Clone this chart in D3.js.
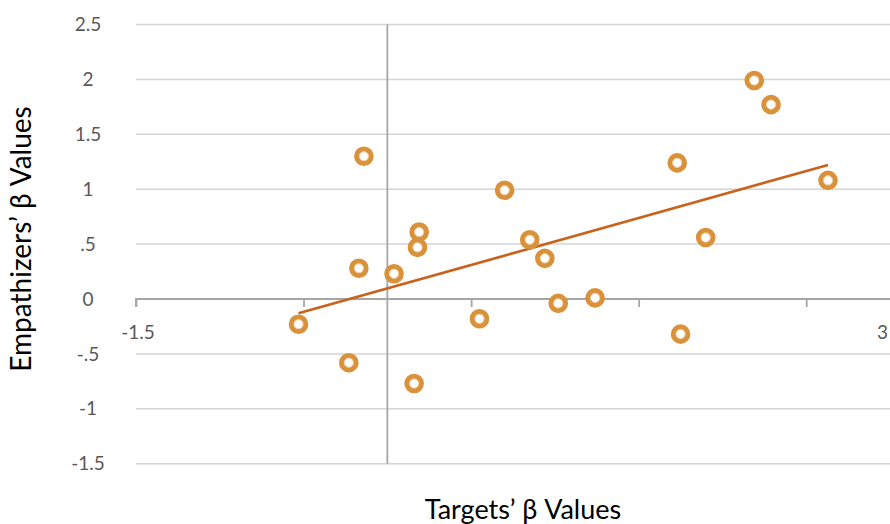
<!DOCTYPE html>
<html><head><meta charset="utf-8">
<script src="https://cdn.jsdelivr.net/npm/d3@7"></script>
<style>body{margin:0;background:#fff;overflow:hidden}svg{display:block}</style>
</head><body>
<svg id="c" width="890" height="524"></svg>
<script>
const targetsBeta = [-0.53,-0.23,-0.17,-0.14,0.04,0.16,0.18,0.19,0.55,0.70,0.85,0.94,1.02,1.24,1.73,1.75,1.90,2.19,2.29,2.63];
const empathizersBeta = [-0.23,-0.58,0.28,1.30,0.23,-0.77,0.47,0.61,-0.18,0.99,0.54,0.37,-0.04,0.01,1.24,-0.32,0.56,1.99,1.77,1.08];
const yTicks = [2.5,2,1.5,1,0.5,0,-0.5,-1,-1.5];
const yTickLabels = ["2.5","2","1.5","1",".5","0","-.5","-1","-1.5"];
const xTicks = [-1.5,-0.5,0.5,1.5,2.5];
const xEndLabels = [[-1.5,"-1.5"],[3,"3"]];
const xTitle = "Targets’ β Values";
const yTitle = "Empathizers’ β Values";

const svg = d3.select("#c");
const x = d3.scaleLinear().domain([-1.5,3]).range([136,890]);
const y = d3.scaleLinear().domain([-1.5,2.5]).range([463.7,24.5]);
const font = "Lato, 'Open Sans', sans-serif";

// gridlines
svg.append("g").selectAll("line").data(yTicks).join("line")
  .attr("x1",x(-1.5)).attr("x2",x(3)).attr("y1",d=>y(d)).attr("y2",d=>y(d))
  .attr("stroke","#d4d4d4").attr("stroke-width",1.5);

// y tick labels
svg.append("g").selectAll("text").data(yTicks).join("text")
  .attr("x",88).attr("y",d=>y(d)).attr("dy","0.35em").attr("text-anchor","middle")
  .attr("font-family",font).attr("font-size",19).attr("fill","#595959")
  .text((d,i)=>yTickLabels[i]);

// vertical axis at x=0
svg.append("line").attr("x1",x(0)).attr("x2",x(0)).attr("y1",y(2.5)).attr("y2",y(-1.5))
  .attr("stroke","#a6a6a6").attr("stroke-width",1.8);

// x axis at y=0
const xAxis = d3.axisBottom(x).tickValues(xTicks).tickSize(8).tickFormat("");
const gx = svg.append("g").attr("transform",`translate(0,${y(0)})`).call(xAxis);
gx.select(".domain").attr("stroke","#a6a6a6").attr("stroke-width",1.8).attr("d",`M${x(-1.5)},8V0H${x(3)}`);
gx.selectAll(".tick line").attr("stroke","#a6a6a6").attr("stroke-width",1.8);

svg.append("g").selectAll("text").data(xEndLabels).join("text")
  .attr("x",d=>d[0]===3?888:x(d[0])+2).attr("y",y(0)+40).attr("text-anchor",d=>d[0]===3?"end":"middle")
  .attr("font-family",font).attr("font-size",19).attr("fill","#595959")
  .text(d=>d[1]);

// regression trendline
const n = targetsBeta.length;
const mx = d3.mean(targetsBeta), my = d3.mean(empathizersBeta);
let sxy=0,sxx=0;
for(let i=0;i<n;i++){sxy+=(targetsBeta[i]-mx)*(empathizersBeta[i]-my);sxx+=(targetsBeta[i]-mx)**2;}
const slope = sxy/sxx, icpt = my - slope*mx;
const x0 = d3.min(targetsBeta), x1 = d3.max(targetsBeta);
svg.append("line").attr("x1",x(x0)).attr("y1",y(icpt+slope*x0)).attr("x2",x(x1)).attr("y2",y(icpt+slope*x1))
  .attr("stroke","#C8621C").attr("stroke-width",2.6);

// points
const pts = targetsBeta.map((d,i)=>[d,empathizersBeta[i]]);
const g = svg.append("g");
g.selectAll("circle.o").data(pts).join("circle").attr("class","o")
  .attr("cx",d=>x(d[0])).attr("cy",d=>y(d[1])).attr("r",7.3)
  .attr("fill","#fff").attr("stroke","#D9913A").attr("stroke-width",5);
g.selectAll("circle.i").data(pts).join("circle").attr("class","i")
  .attr("cx",d=>x(d[0])).attr("cy",d=>y(d[1])).attr("r",4.6)
  .attr("fill","none").attr("stroke","#EBC79C").attr("stroke-width",1);

// titles
svg.append("text").attr("x",523).attr("y",519).attr("text-anchor","middle")
  .attr("font-family",font).attr("font-size",27).attr("fill","#000").text(xTitle);
svg.append("text").attr("transform","translate(31,239) rotate(-90)").attr("text-anchor","middle")
  .attr("font-family",font).attr("font-size",28).attr("fill","#000").text(yTitle);
</script>
</body></html>
